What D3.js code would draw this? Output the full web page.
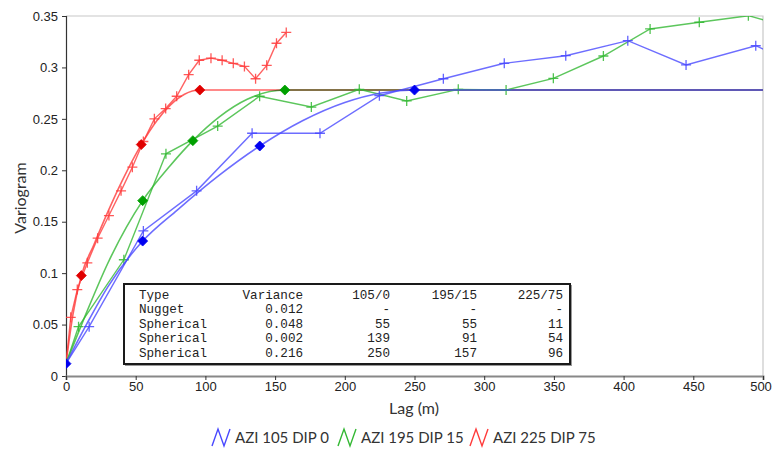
<!DOCTYPE html>
<html>
<head>
<meta charset="utf-8">
<script src="https://cdn.jsdelivr.net/npm/d3@7"></script>
<style>
body{margin:0;background:#fff}
</style>
</head>
<body>
<svg id="mySVG" width="772" height="450"></svg>
<script>
//---experimental variogram points, per direction---
var blueLag = [0, 16.6, 55.5, 93.7, 133.5, 182.2, 224.8, 270.7, 314.4, 358.5, 403, 444.8, 494.8, 530]
var blueExp = [0.012, 0.048, 0.141, 0.180, 0.236, 0.236, 0.2725, 0.289, 0.304, 0.3114, 0.326, 0.3024, 0.3211, 0.300]
var greenLag = [0, 9, 41.5, 71.7, 108.8, 138.9, 176, 210.4, 244.4, 281.4, 315.7, 349.6, 385.5, 419, 454.3, 489.5, 525]
var greenExp = [0.012, 0.048, 0.113, 0.216, 0.243, 0.272, 0.2615, 0.2787, 0.2674, 0.2787, 0.278, 0.2894, 0.3111, 0.3374, 0.3439, 0.3503, 0.337]
var redLag = [0, 3.4, 8.1, 15.3, 22.7, 30.8, 39.5, 47.6, 55.5, 63.4, 71.5, 79.4, 88, 95.6, 104, 112, 120, 128, 136, 144, 151, 158]
var redExp = [0.012, 0.057, 0.084, 0.110, 0.134, 0.156, 0.180, 0.203, 0.228, 0.250, 0.260, 0.272, 0.293, 0.307, 0.309, 0.307, 0.304, 0.301, 0.289, 0.302, 0.3235, 0.334]

//---fitted model curve---
var blueModelLag = [0, 15, 30, 55, 80, 110, 139, 170, 200, 225, 250, 500]
var blueModel = [0.012, 0.0509, 0.0867, 0.1312, 0.1616, 0.1953, 0.2236, 0.2484, 0.2659, 0.2749, 0.278, 0.278]
var greenModelLag = [0, 15, 30, 55, 75, 91, 110, 130, 157, 500]
var greenModel = [0.012, 0.0626, 0.1096, 0.1705, 0.2049, 0.2288, 0.2519, 0.269, 0.278, 0.278]
var redModelLag = [0, 5, 11, 20, 30, 40, 54, 65, 75, 85, 96, 500]
var redModel = [0.012, 0.060, 0.0976, 0.1276, 0.1595, 0.189, 0.225, 0.248, 0.2636, 0.2739, 0.278, 0.278]

//---range markers (diamonds)---
var blueRangeLag = [0, 55, 139, 250]
var blueRangeVal = [0.012, 0.1312, 0.2236, 0.278]
var greenRangeLag = [55, 91, 157]
var greenRangeVal = [0.1705, 0.2288, 0.278]
var redRangeLag = [11, 54, 96]
var redRangeVal = [0.0976, 0.225, 0.278]

var legendNames = ["AZI 105 DIP 0", "AZI 195 DIP 15", "AZI 225 DIP 75"]
var xTicks = [0, 50, 100, 150, 200, 250, 300, 350, 400, 450, 500]
var yTicks = [0, 0.05, 0.1, 0.15, 0.2, 0.25, 0.3, 0.35]

//---model table---
var tableHead = ["Type", "Variance", "105/0", "195/15", "225/75"]
var tableType = ["Nugget", "Spherical", "Spherical", "Spherical"]
var tableVar = ["0.012", "0.048", "0.002", "0.216"]
var tableR105 = ["-", "55", "139", "250"]
var tableR195 = ["-", "55", "91", "157"]
var tableR225 = ["-", "11", "54", "96"]

var MySVG = d3.select("#mySVG")
var PlotL = 66, PlotR = 763, PlotT = 16, PlotB = 376

var X = d3.scaleLinear().domain([0, 500]).range([PlotL, PlotR])
var Y = d3.scaleLinear().domain([0, 0.35]).range([PlotB, PlotT])

MySVG.append("rect").attr("width", 772).attr("height", 450).attr("fill", "white")

MySVG.append("defs").append("clipPath").attr("id", "plotClip")
    .append("rect")
    .attr("x", PlotL).attr("y", PlotT)
    .attr("width", PlotR - PlotL).attr("height", PlotB - PlotT)

//---frame: light top/right border---
MySVG.append("path")
    .attr("d", "M" + PlotL + "," + PlotT + "H" + PlotR + "V" + PlotB)
    .attr("fill", "none")
    .attr("stroke", "#c8c8c8")
    .attr("stroke-width", 1.2)

//---axes---
var yAxis = d3.axisLeft(Y).tickValues(yTicks).tickSize(4).tickPadding(4)
    .tickFormat(function(d){ return d3.format("~g")(d) })
var yG = MySVG.append("g").attr("transform", "translate(" + PlotL + ",0)").call(yAxis)
yG.select(".domain").attr("stroke", "#333").attr("stroke-width", 1.2)
yG.selectAll(".tick line").attr("stroke", "#333")
yG.selectAll("text").attr("font-family", "Liberation Sans, Arial").attr("font-size", 13).attr("fill", "#222")

var xAxis = d3.axisBottom(X).tickValues(xTicks).tickSize(4).tickPadding(2)
var xG = MySVG.append("g").attr("transform", "translate(0," + PlotB + ")").call(xAxis)
xG.select(".domain").attr("stroke", "#888").attr("stroke-width", 2)
xG.selectAll(".tick line").attr("stroke", "#333")
xG.selectAll("text").attr("font-family", "Liberation Sans, Arial").attr("font-size", 13).attr("fill", "#222")
//---last label sits against the window edge---
xG.selectAll(".tick text").filter(function(d){ return d === 500 }).attr("dx", -2.5)

MySVG.append("text")
    .attr("x", 414).attr("y", 414)
    .attr("text-anchor", "middle")
    .attr("font-family", "Lato")
    .attr("font-size", 16)
    .attr("fill", "#333")
    .text("Lag (m)")

MySVG.append("text")
    .attr("transform", "translate(26,198) rotate(-90)")
    .attr("text-anchor", "middle")
    .attr("font-family", "Lato")
    .attr("font-size", 16)
    .attr("fill", "#333")
    .text("Variogram")

//---series---
var series = [
    {lag: redLag, exp: redExp, mLag: redModelLag, m: redModel, rLag: redRangeLag, r: redRangeVal, line: "#ff3b3b", dot: "#e00000", blend: "normal"},
    {lag: greenLag, exp: greenExp, mLag: greenModelLag, m: greenModel, rLag: greenRangeLag, r: greenRangeVal, line: "#33b833", dot: "#00a000", blend: "multiply"},
    {lag: blueLag, exp: blueExp, mLag: blueModelLag, m: blueModel, rLag: blueRangeLag, r: blueRangeVal, line: "#4848ff", dot: "#0000f0", blend: "normal"}
]

var DataG = MySVG.append("g").attr("clip-path", "url(#plotClip)")
var lineGen = d3.line().x(function(d){ return X(d[0]) }).y(function(d){ return Y(d[1]) })
var modelGen = d3.line().x(function(d){ return X(d[0]) }).y(function(d){ return Y(d[1]) }).curve(d3.curveMonotoneX)

series.forEach(function(s)
{
    var expPts = s.lag.map(function(v, i){ return [v, s.exp[i]] })
    var modPts = s.mLag.map(function(v, i){ return [v, s.m[i]] })

    DataG.append("path")
    .attr("d", modelGen(modPts))
    .attr("fill", "none")
    .attr("stroke", s.line)
    .attr("stroke-opacity", 0.8)
    .attr("stroke-width", 1.6)
    .style("mix-blend-mode", s.blend)

    DataG.append("path")
    .attr("d", lineGen(expPts))
    .attr("fill", "none")
    .attr("stroke", s.line)
    .attr("stroke-opacity", 0.8)
    .attr("stroke-width", 1.4)

    //---plus markers---
    DataG.selectAll(null)
    .data(expPts.slice(1))
    .enter().append("path")
    .attr("d", function(d){
        var x = X(d[0]), y = Y(d[1])
        return "M" + (x - 5) + "," + y + "H" + (x + 5) + "M" + x + "," + (y - 5) + "V" + (y + 5)
    })
    .attr("stroke", s.line)
    .attr("stroke-opacity", 0.85)
    .attr("stroke-width", 1.3)
})

//---diamonds on top---
series.forEach(function(s)
{
    DataG.selectAll(null)
    .data(s.rLag.map(function(v, i){ return [v, s.r[i]] }))
    .enter().append("path")
    .attr("d", function(d){
        var x = X(d[0]), y = Y(d[1])
        return "M" + x + "," + (y - 5) + "L" + (x + 5) + "," + y + "L" + x + "," + (y + 5) + "L" + (x - 5) + "," + y + "Z"
    })
    .attr("fill", s.dot)
    .attr("stroke", s.dot)
    .attr("stroke-width", 0.8)
})

//---model table box---
var TableG = MySVG.append("g").attr("font-family", "Liberation Mono, Courier New, monospace").attr("font-size", 12.6).attr("fill", "#222")
TableG.append("rect")
    .attr("x", 125).attr("y", 285).attr("width", 447).attr("height", 81)
    .attr("fill", "#999")
TableG.append("rect")
    .attr("x", 124).attr("y", 284).attr("width", 446).attr("height", 80)
    .attr("fill", "white")
    .attr("stroke", "#1a1a1a")
    .attr("stroke-width", 2)

var colX = [139, 303, 390, 477, 563]
var colAnchor = ["start", "end", "end", "end", "end"]
var rows = [tableHead].concat(tableType.map(function(t, i){
    return [t, tableVar[i], tableR105[i], tableR195[i], tableR225[i]]
}))
rows.forEach(function(row, r)
{
    row.forEach(function(cell, c)
    {
        TableG.append("text")
        .attr("x", colX[c])
        .attr("y", 299 + r * 14.4)
        .attr("text-anchor", colAnchor[c])
        .text(cell)
    })
})

//---legend---
var LegendG = MySVG.append("g").attr("font-family", "Lato").attr("font-size", 15).attr("fill", "#333")
var legX = [212, 338, 470]
series.slice().reverse().forEach(function(s, i)
{
    var x0 = legX[i], y0 = 429
    LegendG.append("path")
    .attr("d", "M" + x0 + "," + (y0 + 17) + "L" + (x0 + 6) + "," + y0 + "L" + (x0 + 12) + "," + (y0 + 17) + "L" + (x0 + 18) + "," + y0)
    .attr("fill", "none")
    .attr("stroke", s.line)
    .attr("stroke-width", 1.4)
    LegendG.append("text")
    .attr("x", x0 + 23)
    .attr("y", 443)
    .text(legendNames[i])
})
</script>
</body>
</html>
